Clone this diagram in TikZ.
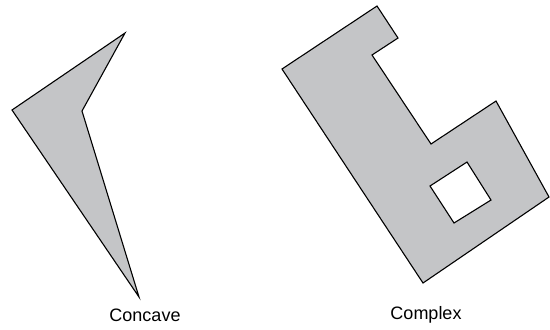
\documentclass[tikz,border=0pt]{standalone}
\usepackage{fontspec}
\setmainfont{Liberation Sans}
\usetikzlibrary{positioning}
\definecolor{polygray}{RGB}{196,197,199}

\begin{document}
\begin{tikzpicture}[
    x=0.5pt, y=-0.5pt, polygon/.style={draw=black, line width=0.55pt, fill=polygray, line join=miter},
    caption/.style={font=\fontsize{9}{11}\selectfont, inner sep=0pt}
]
\useasboundingbox (0,0) rectangle (550,329);

% concave polygon
\draw[polygon] (125,33) -- (82,111) -- (139,297) -- (12,110) -- cycle;

% complex polygon with a hole
\draw[polygon, even odd rule] (377,6) -- (398,38) -- (372,55) -- (431,144) -- (496,101) -- (549,197) -- (423,283) -- (282,69) -- cycle
    (467,162) -- (491,200) -- (454,223) -- (430,186) -- cycle;

\node (concave_label) [caption] at (145,315) {Concave};
\node (complex_label) [caption] at (426,315) {Complex};
\end{tikzpicture}
\end{document}
